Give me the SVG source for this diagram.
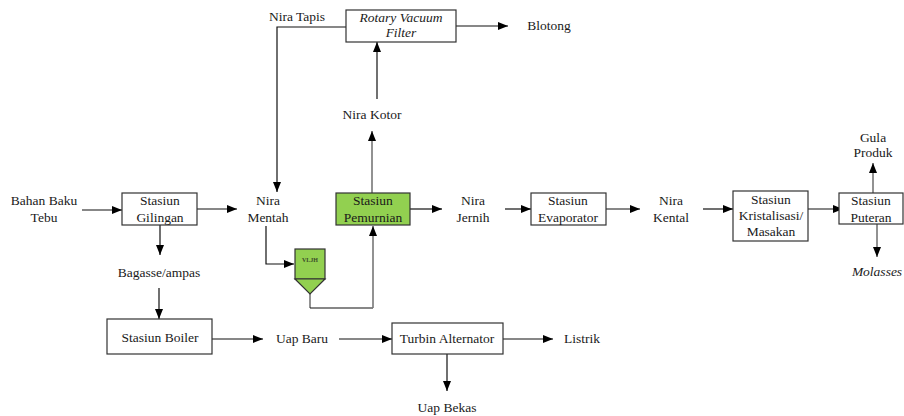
<svg xmlns="http://www.w3.org/2000/svg" width="904" height="416" viewBox="0 0 904 416">
<style>
text{font-family:"Liberation Serif","Times New Roman","DejaVu Serif",serif;font-size:13.5px;fill:#1a1a1a;text-anchor:middle}
.it{font-style:italic}
.box{fill:#fff;stroke:#333;stroke-width:1.2}
.green{fill:#92D050;stroke:#333;stroke-width:1.2}
.ln{fill:none;stroke:#111;stroke-width:1.2}
.gl{fill:none;stroke:#777;stroke-width:1.6}
</style>
<defs>
<marker id="ah" markerWidth="10" markerHeight="8" refX="10" refY="4" orient="auto" markerUnits="userSpaceOnUse">
<path d="M0,0 L10,4 L0,8 Z" fill="#000"/>
</marker>
</defs>
<rect width="904" height="416" fill="#fff"/>
<g id="connectors">
<path class="ln" d="M346,27 H277 V192" marker-end="url(#ah)"/>
<path class="ln" d="M456,26 H508" marker-end="url(#ah)"/>
<path class="ln" d="M377,99 V42" marker-end="url(#ah)"/>
<path class="gl" d="M372,193 V131" marker-end="url(#ah)"/>
<path class="ln" d="M82,210 H122" marker-end="url(#ah)"/>
<path class="ln" d="M197,209 H237" marker-end="url(#ah)"/>
<path class="ln" d="M160,225 V255" marker-end="url(#ah)"/>
<path class="ln" d="M266,226 V264 H294" marker-end="url(#ah)"/>
<path class="gl" d="M310,294 V308"/>
<path class="ln" d="M310,308 H373"/>
<path class="gl" d="M373,308 V226" marker-end="url(#ah)"/>
<path class="ln" d="M410,209 H442" marker-end="url(#ah)"/>
<path class="ln" d="M505,209 H531" marker-end="url(#ah)"/>
<path class="ln" d="M606,209 H640" marker-end="url(#ah)"/>
<path class="ln" d="M703,209 H733" marker-end="url(#ah)"/>
<path class="ln" d="M808,209 H843" marker-end="url(#ah)"/>
<path class="gl" d="M873,193 V163" marker-end="url(#ah)"/>
<path class="gl" d="M877,224 V257" marker-end="url(#ah)"/>
<path class="ln" d="M159,288 V319" marker-end="url(#ah)"/>
<path class="ln" d="M212,339 H263" marker-end="url(#ah)"/>
<path class="ln" d="M339,339 H392" marker-end="url(#ah)"/>
<path class="ln" d="M503,339 H553" marker-end="url(#ah)"/>
<path class="ln" d="M447,354 V391" marker-end="url(#ah)"/>
</g>
<g id="rvf">
<rect class="box" x="346" y="10" width="110" height="32"/>
<text class="it" x="401" y="22">Rotary Vacuum</text>
<text class="it" x="401" y="37">Filter</text>
</g>
<g id="nira-tapis"><text x="297" y="21">Nira Tapis</text></g>
<g id="blotong"><text x="549" y="30">Blotong</text></g>
<g id="nira-kotor"><text x="372" y="119">Nira Kotor</text></g>
<g id="bahan-baku"><text x="44" y="205">Bahan Baku</text><text x="44" y="222">Tebu</text></g>
<g id="gilingan">
<rect class="box" x="122" y="193" width="75" height="32"/>
<text x="160" y="205">Stasiun</text><text x="160" y="222">Gilingan</text>
</g>
<g id="nira-mentah"><text x="268" y="205">Nira</text><text x="268" y="222">Mentah</text></g>
<g id="bagasse"><text x="159" y="277">Bagasse/ampas</text></g>
<g id="vljh">
<rect x="295" y="249" width="30" height="30" fill="#92D050" stroke="#333" stroke-width="1.2"/>
<path d="M295,279 L310,294 L325,279 Z" fill="#92D050" stroke="#333" stroke-width="1.2"/>
<text x="310" y="262" style="font-size:6px;font-weight:bold;fill:#3a4a2a">VLJH</text>
</g>
<g id="pemurnian">
<rect class="green" x="336" y="193" width="74" height="32"/>
<text x="373" y="205">Stasiun</text><text x="373" y="222">Pemurnian</text>
</g>
<g id="nira-jernih"><text x="473" y="205">Nira</text><text x="473" y="222">Jernih</text></g>
<g id="evaporator">
<rect class="box" x="531" y="193" width="75" height="32"/>
<text x="568" y="205">Stasiun</text><text x="568" y="222">Evaporator</text>
</g>
<g id="nira-kental"><text x="671" y="205">Nira</text><text x="671" y="222">Kental</text></g>
<g id="kristalisasi">
<rect class="box" x="733" y="191" width="75" height="50"/>
<text x="771" y="204">Stasiun</text><text x="771" y="220">Kristalisasi/</text><text x="771" y="236">Masakan</text>
</g>
<g id="puteran">
<rect class="box" x="839" y="193" width="64" height="31"/>
<text x="871" y="205">Stasiun</text><text x="871" y="222">Puteran</text>
</g>
<g id="gula"><text x="873" y="142">Gula</text><text x="873" y="157">Produk</text></g>
<g id="molasses"><text class="it" x="877" y="276">Molasses</text></g>
<g id="boiler">
<rect class="box" x="107" y="319" width="105" height="35"/>
<text x="160" y="342">Stasiun Boiler</text>
</g>
<g id="uap-baru"><text x="302" y="343">Uap Baru</text></g>
<g id="turbin">
<rect class="box" x="392" y="323" width="111" height="31"/>
<text x="447" y="343">Turbin Alternator</text>
</g>
<g id="listrik"><text x="582" y="343">Listrik</text></g>
<g id="uap-bekas"><text x="447" y="412">Uap Bekas</text></g>
</svg>
